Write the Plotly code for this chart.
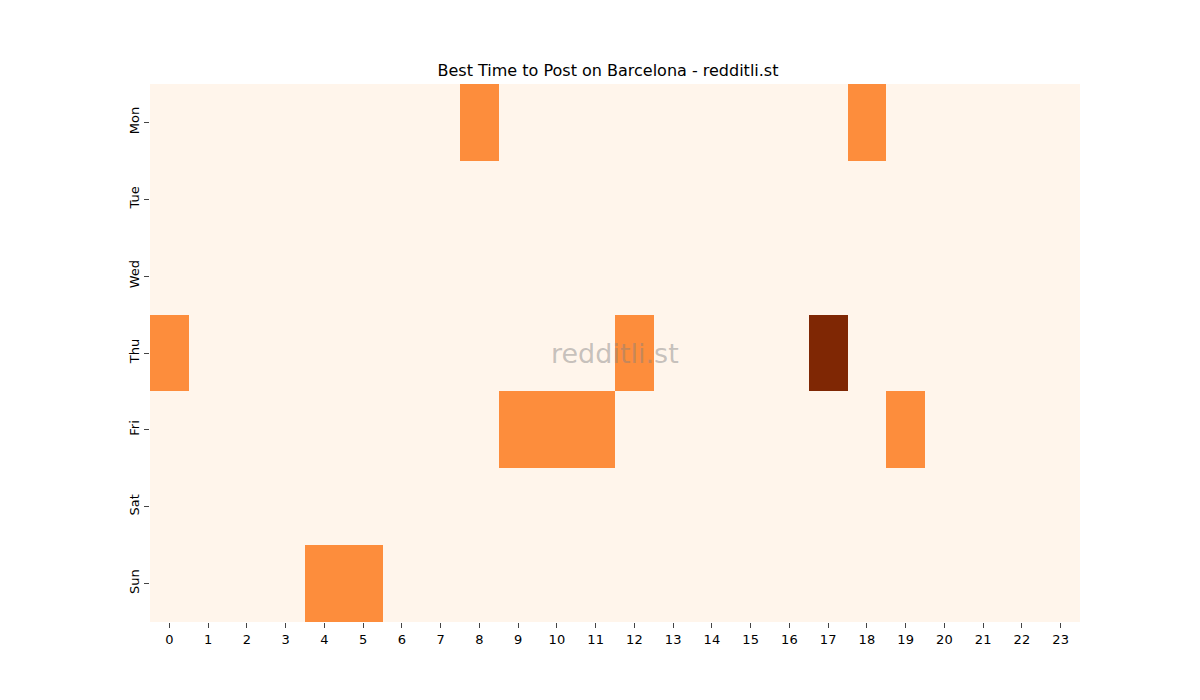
import plotly.graph_objects as go

days = ["Mon", "Tue", "Wed", "Thu", "Fri", "Sat", "Sun"]
hours = list(range(24))

# posts per (day, hour); everything not listed is 0
mon = [0] * 24
tue = [0] * 24
wed = [0] * 24
thu = [0] * 24
fri = [0] * 24
sat = [0] * 24
sun = [0] * 24
mon[8] = 1
mon[18] = 1
thu[0] = 1
thu[12] = 1
thu[17] = 2
fri[9] = 1
fri[10] = 1
fri[11] = 1
fri[19] = 1
sun[4] = 1
sun[5] = 1
z = [mon, tue, wed, thu, fri, sat, sun]

oranges = [
    [0.0, "#fff5eb"], [0.125, "#fee6ce"], [0.25, "#fdd0a2"], [0.375, "#fdae6b"],
    [0.5, "#fd8d3c"], [0.625, "#f16913"], [0.75, "#d94801"], [0.875, "#a63603"],
    [1.0, "#7f2704"],
]

fig = go.Figure(go.Heatmap(
    z=z, x=hours, y=days, colorscale=oranges, zmin=0, zmax=2,
    showscale=False, xgap=0, ygap=0,
))

fig.update_layout(
    width=1200, height=700,
    paper_bgcolor="white", plot_bgcolor="white",
    font=dict(family="DejaVu Sans", size=13, color="black"),
    title=dict(text="Best Time to Post on Barcelona - redditli.st", x=0.5, xanchor="center",
               y=1 - 62 / 700, yanchor="middle", font=dict(size=16)),
    margin=dict(l=142, r=128, t=76, b=86),
    xaxis=dict(tickmode="array", tickvals=hours, ticktext=[str(h) for h in hours],
               ticks="outside", ticklen=5, showgrid=False, zeroline=False, showline=False),
    yaxis=dict(autorange="reversed", tickangle=-90, ticks="outside", ticklen=5,
               showgrid=False, zeroline=False, showline=False),
    annotations=[dict(text="redditli.st", x=0.5, y=0.5, xref="paper", yref="paper",
                      showarrow=False, font=dict(size=27, color="rgba(128,128,128,0.45)"))],
)

fig.write_html("out.html")
